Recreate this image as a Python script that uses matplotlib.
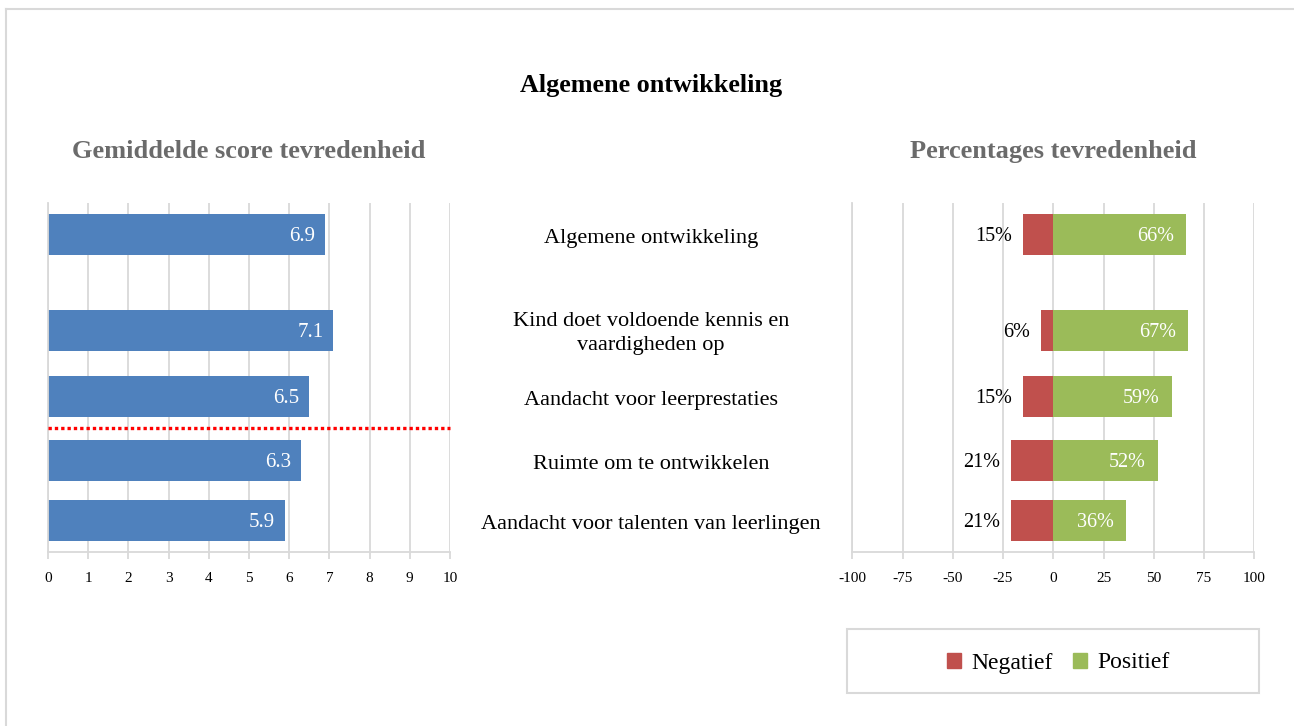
import matplotlib
matplotlib.use("Agg")
import matplotlib.pyplot as plt
import matplotlib.transforms as mtransforms
from matplotlib.patches import Rectangle, Patch
from matplotlib.lines import Line2D

plt.rcParams['font.family'] = ['Liberation Serif', 'DejaVu Serif']
plt.rcParams['axes.unicode_minus'] = False

# data
categories = ["Algemene ontwikkeling",
              "Kind doet voldoende kennis en\nvaardigheden op",
              "Aandacht voor leerprestaties",
              "Ruimte om te ontwikkelen",
              "Aandacht voor talenten van leerlingen"]
scores = [6.9, 7.1, 6.5, 6.3, 5.9]
negatief = [15, 6, 15, 21, 21]
positief = [66, 67, 59, 52, 36]
ref_line = 123.7  # red dotted reference line, between 3rd and 4th bar

# layout (pixels inside a 349 px tall plot area)
ypos = [317.2, 221.2, 155.2, 91.2, 31.2]
bar_h = 41
W, H = 1294, 726
PX = 72 / 100  # one pixel in points

blue = '#4f81bd'
red = '#c0504d'
green = '#9bbb59'
grid = '#d9d9d9'

fig = plt.figure(figsize=(W / 100, H / 100), dpi=100)

# outer frame (only top and left visible in the crop)
fig.add_artist(Line2D([6 / W, 6 / W], [0, 1 - 9 / H], color=grid, lw=1.5))
fig.add_artist(Line2D([6 / W, 1], [1 - 9 / H, 1 - 9 / H], color=grid, lw=1.5))


def style_axes(ax):
    ax.set_ylim(0, 349)
    ax.set_yticks([])
    ax.spines['top'].set_visible(False)
    ax.spines['right'].set_visible(False)
    ax.spines['left'].set_color(grid)
    ax.spines['bottom'].set_color(grid)
    ax.spines['left'].set_linewidth(1.3)
    ax.spines['bottom'].set_linewidth(1.3)
    ax.xaxis.grid(True, color=grid, lw=1.3)
    ax.set_axisbelow(True)
    ax.tick_params(axis='x', direction='out', length=5, width=1.3, color=grid,
                   labelsize=11, pad=9.5)


ax_l = fig.add_axes([48 / W, (H - 551.7) / H, 402 / W, 349 / H])
style_axes(ax_l)
ax_l.set_xlim(0, 10)
ax_l.set_xticks(range(0, 11))
ax_l.barh(ypos, scores, height=bar_h, color=blue, zorder=2)
for y, v in zip(ypos, scores):
    ax_l.annotate(f"{v:.1f}", (v, y), xytext=(-10 * PX, -6.7 * PX),
                  textcoords='offset points', ha='right', va='baseline',
                  color='white', fontsize=15)
ax_l.plot([0, 10], [ref_line, ref_line], color='#ff0000', lw=2.4,
          dashes=(1.0, 0.9), solid_capstyle='butt', dash_capstyle='butt',
          clip_on=False, zorder=3)

ax_r = fig.add_axes([852.3 / W, (H - 551.7) / H, 402 / W, 349 / H])
style_axes(ax_r)
ax_r.set_xlim(-100, 100)
ax_r.set_xticks(range(-100, 101, 25))
ax_r.barh(ypos, [-n for n in negatief], height=bar_h, color=red, zorder=2)
ax_r.barh(ypos, positief, height=bar_h, color=green, zorder=2)
for y, n, p in zip(ypos, negatief, positief):
    ax_r.annotate(f"{n}%", (-n, y), xytext=(-11 * PX, -6.7 * PX),
                  textcoords='offset points', ha='right', va='baseline',
                  color='black', fontsize=14.5)
    ax_r.annotate(f"{p}%", (p, y), xytext=(-12 * PX, -6.7 * PX),
                  textcoords='offset points', ha='right', va='baseline',
                  color='white', fontsize=14.5)

# category labels in the middle (baseline of the last line)
mid = mtransforms.blended_transform_factory(fig.transFigure, ax_l.transData)
for y, c in zip(ypos, categories):
    nlines = c.count("\n") + 1
    dy = 8.2 + (nlines - 1) * 11.3
    ax_l.annotate(c, (651 / W, y), xycoords=mid, xytext=(0, -dy * PX),
                  textcoords='offset points', ha='center', va='baseline',
                  fontsize=16, linespacing=1.35, annotation_clip=False)

# titles
fig.text(651 / W, 1 - 91.7 / H, "Algemene ontwikkeling", ha='center',
         va='baseline', fontsize=18.8, fontweight='bold')
fig.text(249 / W, 1 - 158.3 / H, "Gemiddelde score tevredenheid", ha='center',
         va='baseline', fontsize=19, fontweight='bold', color='#6b6b6b')
fig.text(1053 / W, 1 - 158.3 / H, "Percentages tevredenheid", ha='center',
         va='baseline', fontsize=19, fontweight='bold', color='#6b6b6b')

# legend in its own box
fig.add_artist(Rectangle((847 / W, 1 - 693 / H), 412 / W, 64 / H,
                         transform=fig.transFigure, fill=False,
                         edgecolor=grid, lw=1.5))
handles = [Patch(color=red, label='Negatief'), Patch(color=green, label='Positief')]
fig.legend(handles=handles, loc='center', bbox_to_anchor=(1058 / W, 1 - 663 / H),
           ncol=2, frameon=False, fontsize=17, handlelength=0.62,
           handleheight=0.62, handletextpad=0.42, columnspacing=0.85)

fig.savefig("out.png", dpi=100)
